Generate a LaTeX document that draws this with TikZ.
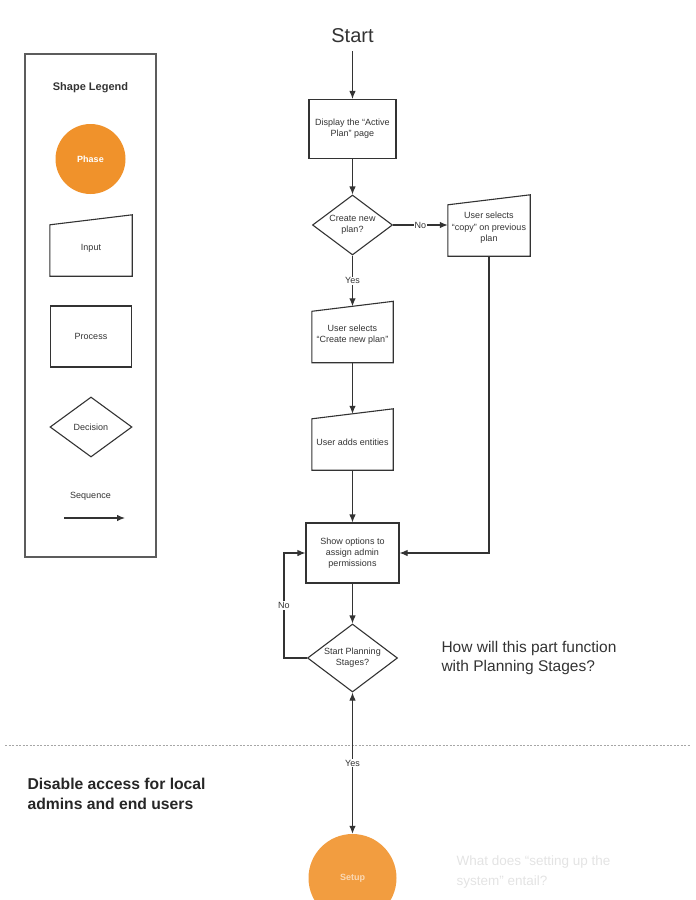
\documentclass[tikz,border=0pt]{standalone}
\usepackage{fontspec}
\setmainfont{Liberation Sans}
\usetikzlibrary{shapes.geometric, arrows.meta}

\definecolor{naranja}{HTML}{F0922B}
\definecolor{trazo}{HTML}{333333}

\tikzset{
  proceso/.style={draw=trazo, line width=1.1pt, minimum width=87pt, minimum height=59pt,
    align=center, text=trazo, font=\fontsize{9}{11}\selectfont},
  entrada/.style={minimum width=81pt, minimum height=56pt, inner sep=2pt,
    align=center, text=trazo, font=\fontsize{9}{11.5}\selectfont},
  decision/.style={diamond, aspect=1.3, draw=trazo, line width=1.1pt, inner sep=0pt,
    align=center, text=trazo, font=\fontsize{9}{11}\selectfont},
  fase/.style={circle, fill=naranja, minimum size=70pt, text=white,
    font=\bfseries\fontsize{9}{10}\selectfont},
  flecha/.style={-{Latex[length=8pt,width=6.5pt]}, draw=trazo, line width=1.1pt},
  etiqueta/.style={fill=white, inner sep=1pt, text=trazo, font=\fontsize{9}{10}\selectfont}
}

% borde inclinado de las entradas
\newcommand{\tapa}[1]{\draw[draw=trazo, line width=1.1pt] (#1.south west) -- ([yshift=-5pt]#1.north west)
  -- ([yshift=5pt]#1.north east) -- (#1.south east) -- cycle;}

\begin{document}
\begin{tikzpicture}[x=1pt, y=-1pt]
    \useasboundingbox (0,0) rectangle (696,900);

    % Leyenda
    \node[draw=trazo!80, line width=1.1pt, minimum width=131pt, minimum height=503pt] (leyenda) at (90.5,305.5) {};
    \node[font=\bfseries\fontsize{11}{13}\selectfont, text=trazo] (titulo) at (90.5,88) {Shape Legend};
    \node[fase] (lfase) at (90.5,159) {Phase};
    \node[entrada, minimum width=82pt] (lentrada) at (91,248) {Input};
    \tapa{lentrada}
    \node[proceso, minimum width=81pt, minimum height=61pt] (lproceso) at (91,336.5) {Process};
    \node[decision, minimum width=82pt, minimum height=60pt] (ldecision) at (91,427) {Decision};
    \node[text=trazo, font=\fontsize{9}{10}\selectfont] (lsecuencia) at (90.5,496) {Sequence};
    \coordinate (sa) at (64,518);
    \coordinate (sb) at (125,518);
    \draw[flecha] (sa) -- (sb);

    % Flujo principal
    \node[font=\fontsize{20}{24}\selectfont, text=trazo, inner sep=1pt] (inicio) at (352.5,36) {Start};
    \node[proceso] (mostrar) at (352.5,129) {Display the ``Active\\Plan'' page};
    \node[decision, minimum width=80pt, minimum height=60pt] (crear) at (352.5,225) {Create new\\plan?};
    \node[entrada, minimum width=82pt] (copiar) at (489,228) {User selects\\``copy'' on previous\\plan};
    \tapa{copiar}
    \node[entrada] (nuevo) at (352.5,334.5) {User selects\\``Create new plan''};
    \tapa{nuevo}
    \node[entrada] (entidades) at (352.5,442) {User adds entities};
    \tapa{entidades}
    \node[proceso, minimum width=93pt, minimum height=60pt] (opciones) at (352.5,553) {Show options to\\assign admin\\permissions};
    \node[decision, minimum width=90pt, minimum height=68pt] (etapas) at (352.5,658) {Start Planning\\Stages?};

    % Conectores
    \draw[flecha] (inicio.south) ++(0,7) -- (mostrar.north);
    \draw[flecha] (mostrar.south) -- (crear.north);
    \draw[flecha] (crear.east) -- node[etiqueta] {No} (crear.east -| copiar.west);
    \draw[flecha] (crear.south) -- node[etiqueta] {Yes} (nuevo.north);
    \draw[flecha] (nuevo.south) -- (entidades.north);
    \draw[flecha] (entidades.south) -- (opciones.north);
    \draw[flecha] (copiar.south) |- (opciones.east);
    \draw[flecha] (opciones.south) -- (etapas.north);
    \draw[flecha] (etapas.west) -- ++(-23,0) |- node[etiqueta, pos=0.25] {No} (opciones.west);

    % Notas
    \node[anchor=west, align=left, text=trazo, font=\fontsize{15.5}{19}\selectfont] (pregunta) at (438,658)
        {How will this part function\\with Planning Stages?};

    % Separador
    \draw[gray!70, line width=0.9pt, dash pattern=on 2pt off 1.5pt] (5,745) -- (691,745);

    \node[anchor=west, align=left, text=black!85, font=\bfseries\fontsize{15.7}{20}\selectfont] (acceso) at (24,794)
        {Disable access for local\\admins and end users};

    % Fase siguiente (difuminada)
    \node[circle, fill=naranja!90, minimum size=88pt, text=white!65!naranja,
          font=\bfseries\fontsize{9}{10}\selectfont] (preparar) at (352.5,878) {Setup};
    \draw[flecha, {Latex[length=8pt,width=6.5pt]}-{Latex[length=8pt,width=6.5pt]}] (etapas.south) -- node[etiqueta, pos=0.5] {Yes} (preparar.north);
    \node[anchor=west, align=left, text=gray!22, font=\fontsize{13.5}{20}\selectfont] (sistema) at (453,872)
        {What does ``setting up the\\system'' entail?};
\end{tikzpicture}
\end{document}
